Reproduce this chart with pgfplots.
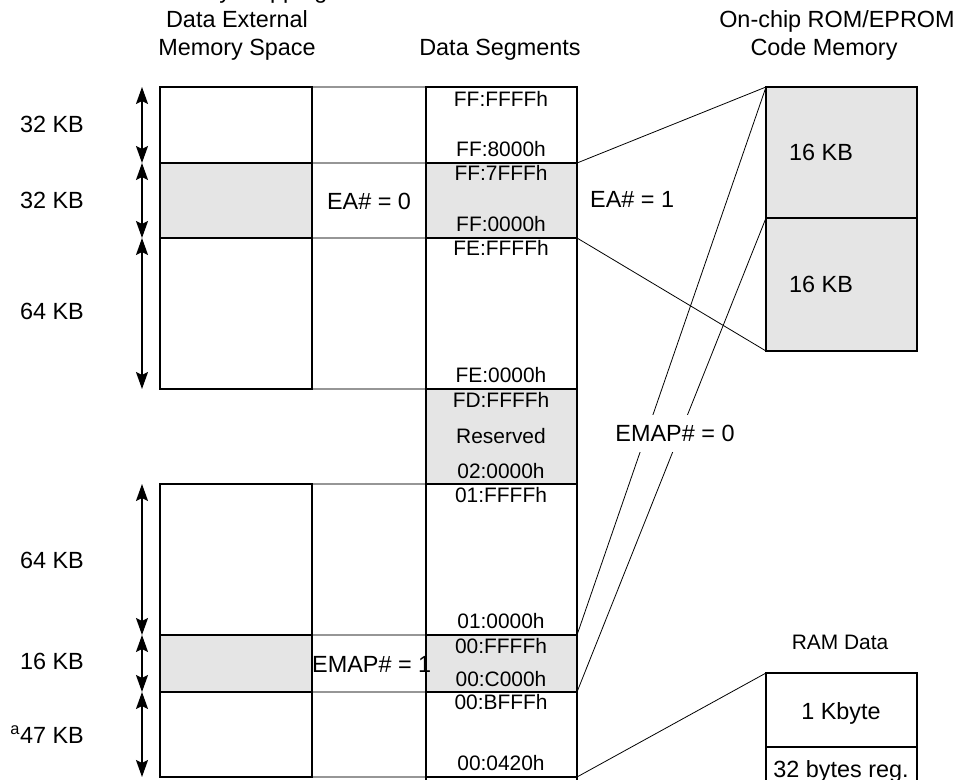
\documentclass[border=0pt]{standalone}
\usepackage{fontspec}
\setmainfont{Liberation Sans}
\usepackage{pgfplots}
\pgfplotsset{compat=1.18}
\usetikzlibrary{arrows.meta}
\definecolor{shade}{RGB}{229,229,229}
\definecolor{midline}{RGB}{150,150,150}

% box: x1, y1, x2, y2, style
\newcommand{\blk}[5]{\addplot[#5] coordinates {(#1,#2)(#3,#2)(#3,#4)(#1,#4)} -- cycle;}
\newcommand{\dbl}[2]{\addplot[line width=1.8bp, {Stealth[length=17bp,width=12bp,inset=3bp]}-{Stealth[length=17bp,width=12bp,inset=3bp]}] coordinates {(142,#1)(142,#2)};}

\begin{document}
\begin{tikzpicture}
\begin{axis}[
  scale only axis, width=977bp, height=780bp,
  xmin=0, xmax=977, ymin=0, ymax=780, y dir=reverse,
  hide axis, clip=false]
\coordinate (TL) at (axis cs:0,0);
\coordinate (BR) at (axis cs:977,780);

% shaded areas
\blk{160}{163}{312}{238}{fill=shade, draw=none}
\blk{160}{635}{312}{692}{fill=shade, draw=none}
\blk{426}{163}{577}{238}{fill=shade, draw=none}
\blk{426}{389}{577}{484}{fill=shade, draw=none}
\blk{426}{635}{577}{692}{fill=shade, draw=none}
\blk{766}{87}{917}{351}{fill=shade, draw=none}

% middle column: grey rules
\addplot[midline, line width=1.3bp] coordinates {(312,87)(426,87)};
\addplot[midline, line width=1.3bp] coordinates {(312,163)(426,163)};
\addplot[midline, line width=1.3bp] coordinates {(312,238)(426,238)};
\addplot[midline, line width=1.3bp] coordinates {(312,389)(426,389)};
\addplot[midline, line width=1.3bp] coordinates {(312,484)(426,484)};
\addplot[midline, line width=1.3bp] coordinates {(312,635)(426,635)};
\addplot[midline, line width=1.3bp] coordinates {(312,692)(426,692)};
\addplot[midline, line width=1.3bp] coordinates {(312,777)(426,777)};

% left column
\blk{160}{87}{312}{163}{black, line width=2bp}
\blk{160}{163}{312}{238}{black, line width=2bp}
\blk{160}{238}{312}{389}{black, line width=2bp}
\blk{160}{484}{312}{635}{black, line width=2bp}
\blk{160}{635}{312}{692}{black, line width=2bp}
\blk{160}{692}{312}{777}{black, line width=2bp}

% data segments
\blk{426}{87}{577}{163}{black, line width=2bp}
\blk{426}{163}{577}{238}{black, line width=2bp}
\blk{426}{238}{577}{389}{black, line width=2bp}
\blk{426}{389}{577}{484}{black, line width=2bp}
\blk{426}{484}{577}{635}{black, line width=2bp}
\blk{426}{635}{577}{692}{black, line width=2bp}
\blk{426}{692}{577}{777}{black, line width=2bp}
\addplot[black, line width=2bp] coordinates {(426,777)(426,785)};
\addplot[black, line width=2bp] coordinates {(577,777)(577,785)};

% ROM and RAM
\blk{766}{87}{917}{218}{black, line width=2bp}
\blk{766}{218}{917}{351}{black, line width=2bp}
\blk{766}{673}{917}{747}{black, line width=2bp}
\blk{766}{747}{917}{790}{black, line width=2bp}

% connecting lines
\addplot[black, line width=0.8bp] coordinates {(577,163)(766,87)};
\addplot[black, line width=0.8bp] coordinates {(577,238)(766,351)};
\addplot[black, line width=0.8bp] coordinates {(577,635)(766,87)};
\addplot[black, line width=0.8bp] coordinates {(577,692)(766,218)};
\addplot[black, line width=0.8bp] coordinates {(577,777)(766,673)};

% size arrows
\dbl{87}{163}
\dbl{163}{238}
\dbl{238}{389}
\dbl{484}{635}
\dbl{635}{692}
\dbl{692}{777}

\begin{scope}[every node/.style={font=\fontsize{23.5}{27}\selectfont, anchor=base, inner xsep=0pt}]
% headings (top line cut off by the page edge, as in the original)
\node at (axis cs:237,-1) {Memory Mapping};
\node at (axis cs:237,28) {Data External};
\node at (axis cs:237,56) {Memory Space};
\node at (axis cs:500,56) {Data Segments};
\node at (axis cs:837,28) {On-chip ROM/EPROM};
\node at (axis cs:824,56) {Code Memory};

% sizes
\node[anchor=base east] at (axis cs:84,133) {32 KB};
\node[anchor=base east] at (axis cs:84,209) {32 KB};
\node[anchor=base east] at (axis cs:84,320) {64 KB};
\node[anchor=base east] at (axis cs:84,568) {64 KB};
\node[anchor=base east] at (axis cs:84,669) {16 KB};
\node[anchor=base east] at (axis cs:84,743) {\textsuperscript{a}47 KB};

% other labels
\node at (axis cs:369,210) {EA\# = 0};
\node[anchor=base west] at (axis cs:590,208) {EA\# = 1};
\node[fill=white, inner xsep=2bp, inner ysep=0pt, text height=26bp, text depth=11bp] at (axis cs:675,441) {EMAP\# = 0};
\node[anchor=base west] at (axis cs:312,672) {EMAP\# = 1};
\node[anchor=base west] at (axis cs:789,161) {16 KB};
\node[anchor=base west] at (axis cs:789,293) {16 KB};
\node at (axis cs:841,719) {1 Kbyte};
\node at (axis cs:841,777) {32 bytes reg.};
\end{scope}

% addresses
\begin{scope}[every node/.style={font=\fontsize{21}{25}\selectfont, anchor=base}]
\node at (axis cs:501,107) {FF:FFFFh};
\node at (axis cs:501,157) {FF:8000h};
\node at (axis cs:501,181) {FF:7FFFh};
\node at (axis cs:501,232) {FF:0000h};
\node at (axis cs:501,256) {FE:FFFFh};
\node at (axis cs:501,383) {FE:0000h};
\node at (axis cs:501,407) {FD:FFFFh};
\node at (axis cs:501,443) {Reserved};
\node at (axis cs:501,478) {02:0000h};
\node at (axis cs:501,502) {01:FFFFh};
\node at (axis cs:501,628) {01:0000h};
\node at (axis cs:501,653) {00:FFFFh};
\node at (axis cs:501,686) {00:C000h};
\node at (axis cs:501,709) {00:BFFFh};
\node at (axis cs:501,770) {00:0420h};
\node at (axis cs:840,649) {RAM Data};
\end{scope}
\end{axis}
\pgfresetboundingbox
\path[use as bounding box] (TL) rectangle (BR);
\end{tikzpicture}
\end{document}
